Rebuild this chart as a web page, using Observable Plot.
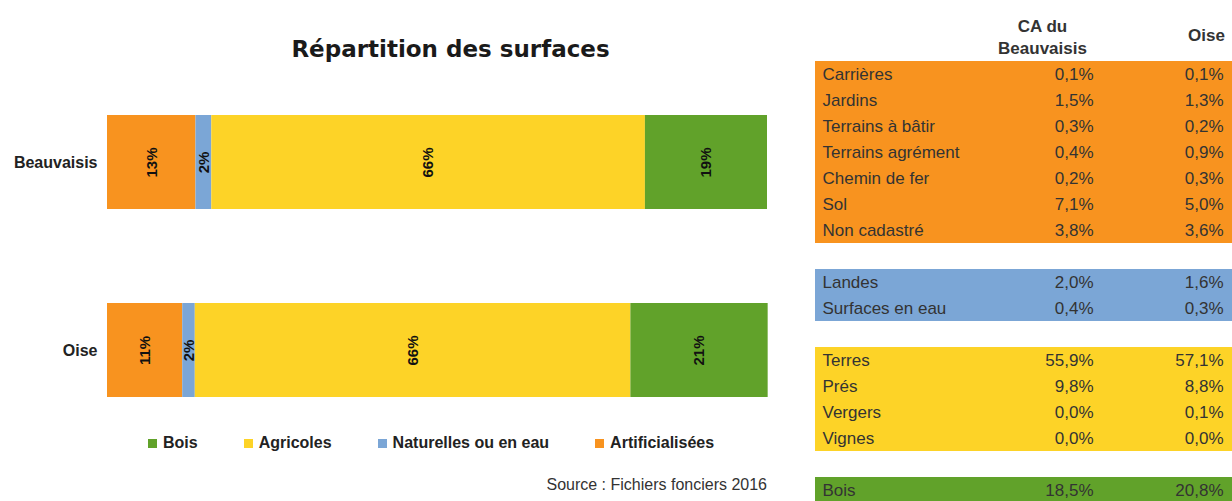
<!DOCTYPE html>
<html><head><meta charset="utf-8">
<script src="https://cdn.jsdelivr.net/npm/d3@7"></script>
<script src="https://cdn.jsdelivr.net/npm/@observablehq/plot@0.6"></script>
<style>
html,body{margin:0;padding:0;background:#fff;overflow:hidden}
#root{position:relative;width:1232px;height:501px;overflow:hidden;font-family:"Liberation Sans",Arial,sans-serif;background:#fff}
.abs{position:absolute}
#title{left:120px;width:661px;top:36px;text-align:center;font-weight:bold;font-size:23px;font-family:"DejaVu Sans",sans-serif;color:#1a1a1a;line-height:27px;white-space:nowrap}
#source{right:465px;top:476px;font-size:16px;line-height:18px;color:#333;white-space:nowrap}
#legend{left:148px;top:434px}
#legend .lg-swatches{margin:0 !important;font-family:"Liberation Sans",Arial,sans-serif !important;font-size:16px !important;font-weight:bold;color:#222;min-height:0 !important;line-height:18px}
#legend .lg-swatch{margin-right:46px !important}
#legend .lg-swatch > svg{margin-right:6px !important}
</style></head>
<body><div id="root">
<div id="bars" class="abs" style="left:0;top:90px"></div>
<div id="table" class="abs" style="left:800px;top:0"></div>
<div id="title" class="abs">Répartition des surfaces</div>
<div id="legend" class="abs"></div>
<div id="source" class="abs">Source : Fichiers fonciers 2016</div>
</div>
<script>
// ---- Bar chart data ----
const regions = ["Beauvaisis", "Oise"];
const categories = ["Artificialisées", "Naturelles ou en eau", "Agricoles", "Bois"];
const beauvaisisShares = [13.4, 2.4, 65.7, 18.5];
const oiseShares = [11.4, 1.9, 66.0, 20.8];
const categoryColors = ["#F8931F", "#7BA6D6", "#FDD327", "#61A22A"];

// ---- Table data ----
const tableColumns = ["label", "CA du Beauvaisis", "Oise"];
const tableLabels = ["Carrières", "Jardins", "Terrains à bâtir", "Terrains agrément", "Chemin de fer", "Sol", "Non cadastré",
  "Landes", "Surfaces en eau",
  "Terres", "Prés", "Vergers", "Vignes",
  "Bois"];
const tableGroups = ["Artificialisées", "Artificialisées", "Artificialisées", "Artificialisées", "Artificialisées", "Artificialisées", "Artificialisées",
  "Naturelles ou en eau", "Naturelles ou en eau",
  "Agricoles", "Agricoles", "Agricoles", "Agricoles",
  "Bois"];
const caBeauvaisisValues = [0.1, 1.5, 0.3, 0.4, 0.2, 7.1, 3.8, 2.0, 0.4, 55.9, 9.8, 0.0, 0.0, 18.5];
const oiseValues = [0.1, 1.3, 0.2, 0.9, 0.3, 5.0, 3.6, 1.6, 0.3, 57.1, 8.8, 0.1, 0.0, 20.8];

const font = "'Liberation Sans', Arial, sans-serif";

// ---- Bars ----
const shares = [beauvaisisShares, oiseShares];
const barData = [];
regions.forEach((reg, ri) => categories.forEach((cat, ci) => barData.push({region: reg, category: cat, value: shares[ri][ci]})));

const bars = Plot.plot({
  width: 800, height: 330,
  marginTop: 25, marginBottom: 23, marginLeft: 107, marginRight: 33,
  x: {domain: [0, 100], axis: null},
  y: {domain: regions, paddingInner: 0.5, paddingOuter: 0, round: false, label: null, axis: null},
  color: {domain: categories, range: categoryColors},
  style: {fontFamily: font, background: "transparent", overflow: "visible"},
  marks: [
    Plot.barX(barData, Plot.stackX({x: "value", y: "region", fill: "category", order: null})),
    Plot.text(barData, Plot.stackX({x: "value", y: "region", order: null, text: d => Math.round(d.value) + "%", rotate: -90, fontWeight: "bold", fontSize: 15, fill: "#111"})),
    Plot.axisY({tickSize: 0, tickPadding: 10, fontSize: 16, fontWeight: "bold", fill: "#222", label: null})
  ]
});
document.getElementById("bars").appendChild(bars);

// ---- Legend ----
const legend = Plot.legend({
  color: {domain: categories.slice().reverse(), range: categoryColors.slice().reverse()},
  legend: "swatches", swatchSize: 9, className: "lg",
  style: {fontSize: "16px", fontFamily: font, minHeight: "0px", margin: "0px"}
});
document.getElementById("legend").appendChild(legend);

// ---- Table ----
const rows = [];
let r = 0, prev = null;
tableLabels.forEach((lab, i) => {
  if (prev !== null && tableGroups[i] !== prev) r++;
  rows.push({key: String(r), label: lab, group: tableGroups[i], ca: caBeauvaisisValues[i], oise: oiseValues[i]});
  prev = tableGroups[i];
  r++;
});
const yKeys = ["h0", "h1", ...d3.range(r).map(String)];
const fmt = v => v.toFixed(1).replace(".", ",") + "%";

const table = Plot.plot({
  width: 432, height: 501,
  marginLeft: 15, marginRight: 0, marginTop: 0, marginBottom: 0,
  x: {type: "band", domain: tableColumns, padding: 0, round: false, axis: null},
  y: {type: "band", domain: yKeys, range: [9, 9 + 26 * yKeys.length], padding: 0, round: false, axis: null},
  color: {domain: categories, range: categoryColors},
  style: {fontFamily: font, background: "transparent", overflow: "hidden"},
  marks: [
    Plot.cell(rows, {y: "key", fill: "group", inset: 0}),
    Plot.text(rows, {x: () => "label", y: "key", text: "label", textAnchor: "start", dx: -62.5, fontSize: 17, fill: "#333"}),
    Plot.text(rows, {x: () => "CA du Beauvaisis", y: "key", text: d => fmt(d.ca), textAnchor: "end", dx: 69.5, fontSize: 17, fill: "#333"}),
    Plot.text(rows, {x: () => "Oise", y: "key", text: d => fmt(d.oise), textAnchor: "end", dx: 60.5, fontSize: 17, fill: "#333"}),
    Plot.text(["CA du\nBeauvaisis"], {x: () => "CA du Beauvaisis", y: () => "h0", dy: 13, text: d => d, lineHeight: 1.3, textAnchor: "middle", dx: 18.5, fontSize: 17, fontWeight: "bold", fill: "#333"}),
    Plot.text(["Oise"], {x: () => "Oise", y: () => "h0", dy: 13, text: d => d, textAnchor: "middle", dx: 43.5, fontSize: 17, fontWeight: "bold", fill: "#333"})
  ]
});
document.getElementById("table").appendChild(table);
</script>
</body></html>
